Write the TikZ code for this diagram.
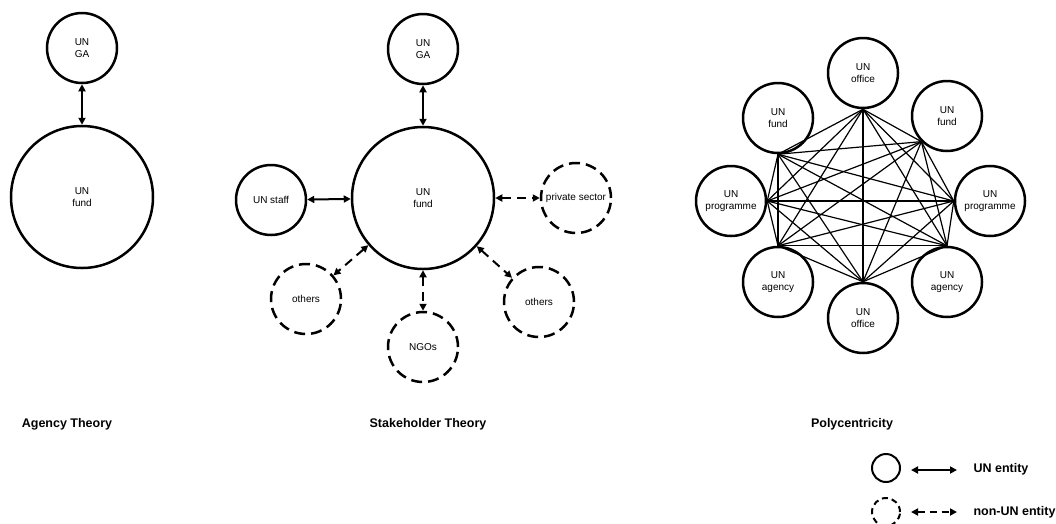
\documentclass[tikz,border=0pt]{standalone}
\usepackage{fontspec}
\setmainfont{Liberation Sans}
\usetikzlibrary{arrows.meta}
\tikzset{
  entity/.style={circle,draw,line width=2.5pt,inner sep=0pt,align=center,font=\fontsize{10}{11.5}\selectfont},
  small/.style={entity,minimum size=70pt},
  big/.style={entity,minimum size=142pt},
  nonun/.style={small,dash pattern=on 11pt off 6pt},
  link/.style={line width=2pt,{Triangle[length=7pt,width=7pt]}-{Triangle[length=7pt,width=7pt]}},
  dlink/.style={link,dash pattern=on 9pt off 6pt},
  web/.style={line width=1.2pt},
  title/.style={font=\fontsize{12.5}{15}\selectfont\bfseries}
}

\begin{document}
\begin{tikzpicture}[x=1pt,y=-1pt]
\useasboundingbox (0,0) rectangle (1056,523);

% agency theory
\node[small] (aga) at (82,48) {UN\\GA};
\node[big] (afund) at (82,197) {UN\\fund};
\draw[link] (aga) -- (afund);
\node[title] (atitle) at (67,424) {Agency Theory};

% stakeholder theory
\node[small] (sga) at (423,49) {UN\\GA};
\node[big] (sfund) at (423,198) {UN\\fund};
\node[small] (sstaff) at (271,200) {UN staff};
\node[nonun] (sprivate) at (576,198) {private sector};
\node[nonun] (sothersl) at (306,299) {others};
\node[nonun] (sngos) at (423,347) {NGOs};
\node[nonun] (sothersr) at (539,302) {others};
\draw[link] (sga) -- (sfund);
\draw[link] (sstaff) -- (sfund);
\draw[dlink] (sfund) -- (sprivate);
\draw[dlink] (sfund) -- (sothersl);
\draw[dlink] (sfund) -- (sngos);
\draw[dlink] (sfund) -- (sothersr);
\node[title] (stitle) at (428,424) {Stakeholder Theory};

% polycentricity
\node[small] (pofft) at (863,73) {UN\\office};
\node[small] (pfundl) at (778,118) {UN\\fund};
\node[small] (pfundr) at (947,116) {UN\\fund};
\node[small] (pprogl) at (731,201) {UN\\programme};
\node[small] (pprogr) at (990,201) {UN\\programme};
\node[small] (pagl) at (778,282) {UN\\agency};
\node[small] (pagr) at (947,282) {UN\\agency};
\node[small] (poffb) at (863,318) {UN\\office};
\coordinate (w1) at (pofft.south);
\coordinate (w2) at (pfundl.south);
\coordinate (w3) at (pfundr.south west);
\coordinate (w4) at (pprogl.east);
\coordinate (w5) at (pprogr.west);
\coordinate (w6) at (pagl.north);
\coordinate (w7) at (pagr.north);
\coordinate (w8) at (poffb.north);
\foreach \i in {1,...,7} {
  \pgfmathtruncatemacro\k{\i+1}
  \foreach \j in {\k,...,8}
    \draw[web] (w\i) -- (w\j);
}
\node[title] (ptitle) at (852,424) {Polycentricity};

% legend
\node[entity,line width=2pt,minimum size=28pt] (lun) at (886,468) {};
\node[entity,line width=2pt,minimum size=28pt,dash pattern=on 6pt off 4pt] (lnon) at (886,512) {};
\coordinate (lua) at (911,470); \coordinate (lub) at (957,470);
\coordinate (lna) at (911,512); \coordinate (lnb) at (957,512);
\draw[link] (lua) -- (lub);
\draw[dlink,dash pattern=on 7pt off 5pt] (lna) -- (lnb);
\node[title,anchor=west] (luntext) at (970,469) {UN entity};
\node[title,anchor=west] (lnontext) at (970,512) {non-UN entity};
\end{tikzpicture}
\end{document}
